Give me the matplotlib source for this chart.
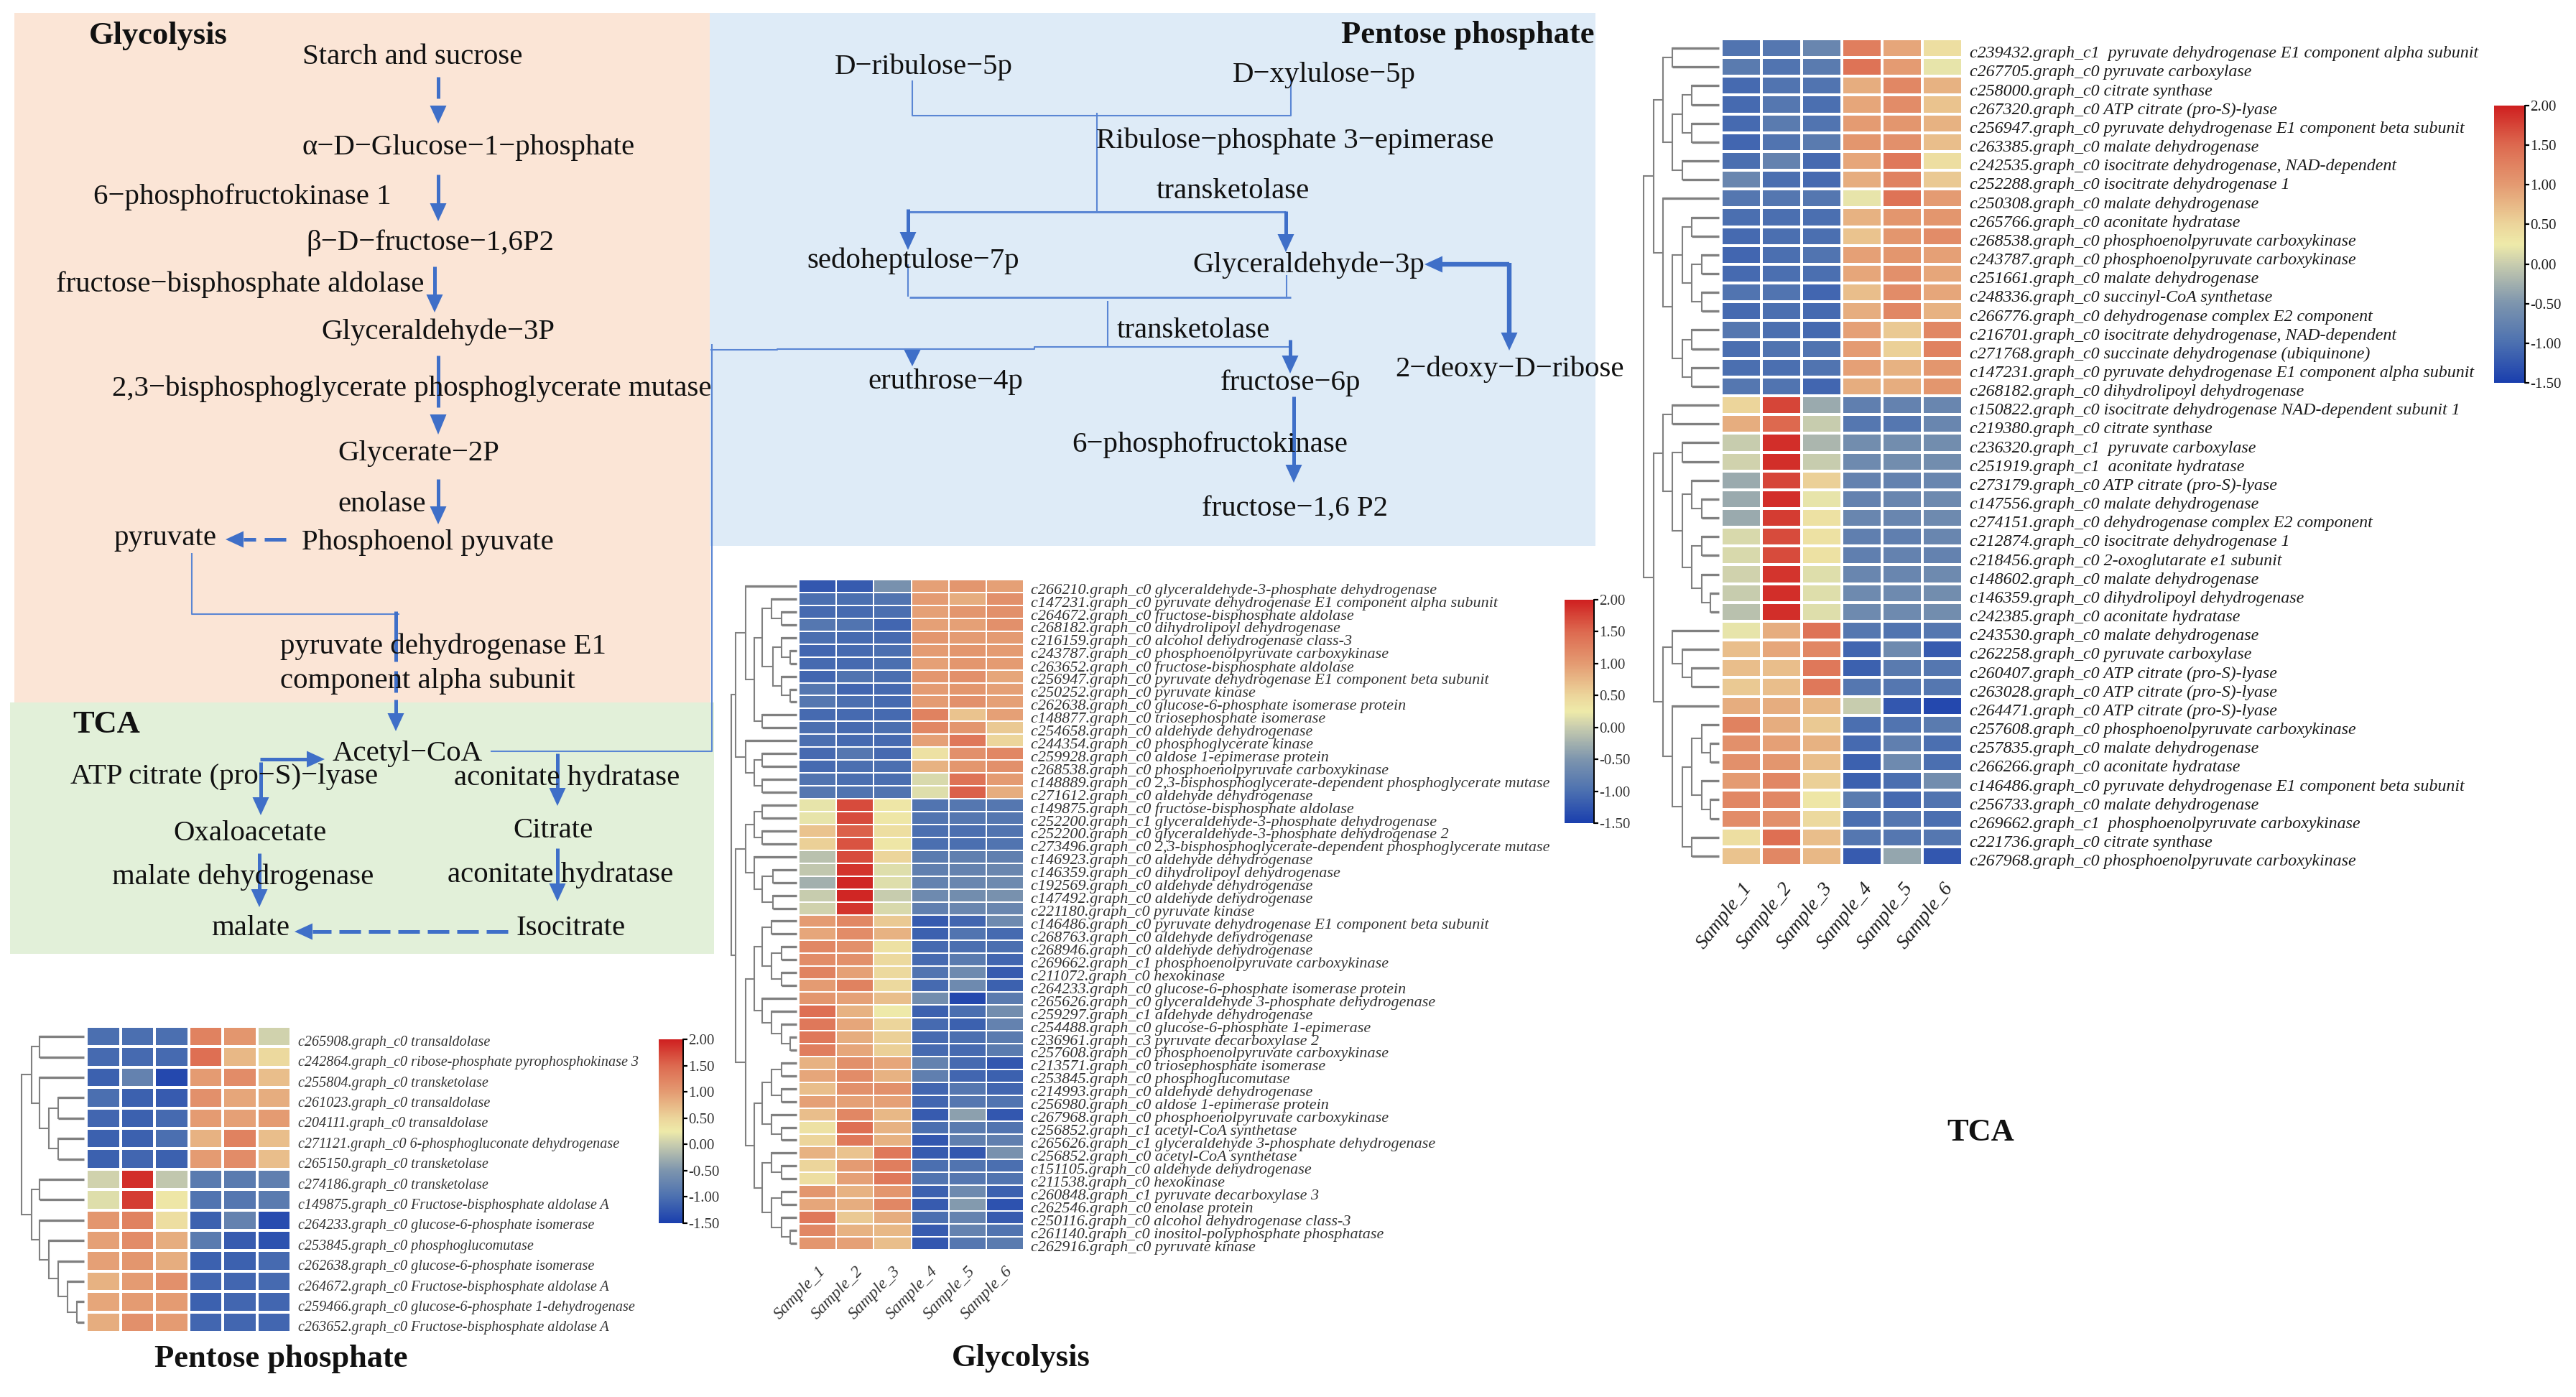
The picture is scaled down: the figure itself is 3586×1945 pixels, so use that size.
import numpy as np
import matplotlib
matplotlib.use("Agg")
import matplotlib.pyplot as plt
from matplotlib.colors import LinearSegmentedColormap
from matplotlib.patches import Rectangle

plt.rcParams['font.family'] = ['Liberation Serif', 'DejaVu Serif']

W, H = 3586, 1945

samples = ["Sample_1", "Sample_2", "Sample_3", "Sample_4", "Sample_5", "Sample_6"]
cbar_ticks = [2.0, 1.5, 1.0, 0.5, 0.0, -0.5, -1.0, -1.5]

# TCA heatmap
tca_labels = [
    "c239432.graph_c1  pyruvate dehydrogenase E1 component alpha subunit",
    "c267705.graph_c0 pyruvate carboxylase",
    "c258000.graph_c0 citrate synthase",
    "c267320.graph_c0 ATP citrate (pro-S)-lyase",
    "c256947.graph_c0 pyruvate dehydrogenase E1 component beta subunit",
    "c263385.graph_c0 malate dehydrogenase",
    "c242535.graph_c0 isocitrate dehydrogenase, NAD-dependent",
    "c252288.graph_c0 isocitrate dehydrogenase 1",
    "c250308.graph_c0 malate dehydrogenase",
    "c265766.graph_c0 aconitate hydratase",
    "c268538.graph_c0 phosphoenolpyruvate carboxykinase",
    "c243787.graph_c0 phosphoenolpyruvate carboxykinase",
    "c251661.graph_c0 malate dehydrogenase",
    "c248336.graph_c0 succinyl-CoA synthetase",
    "c266776.graph_c0 dehydrogenase complex E2 component",
    "c216701.graph_c0 isocitrate dehydrogenase, NAD-dependent",
    "c271768.graph_c0 succinate dehydrogenase (ubiquinone)",
    "c147231.graph_c0 pyruvate dehydrogenase E1 component alpha subunit",
    "c268182.graph_c0 dihydrolipoyl dehydrogenase",
    "c150822.graph_c0 isocitrate dehydrogenase NAD-dependent subunit 1",
    "c219380.graph_c0 citrate synthase",
    "c236320.graph_c1  pyruvate carboxylase",
    "c251919.graph_c1  aconitate hydratase",
    "c273179.graph_c0 ATP citrate (pro-S)-lyase",
    "c147556.graph_c0 malate dehydrogenase",
    "c274151.graph_c0 dehydrogenase complex E2 component",
    "c212874.graph_c0 isocitrate dehydrogenase 1",
    "c218456.graph_c0 2-oxoglutarate e1 subunit",
    "c148602.graph_c0 malate dehydrogenase",
    "c146359.graph_c0 dihydrolipoyl dehydrogenase",
    "c242385.graph_c0 aconitate hydratase",
    "c243530.graph_c0 malate dehydrogenase",
    "c262258.graph_c0 pyruvate carboxylase",
    "c260407.graph_c0 ATP citrate (pro-S)-lyase",
    "c263028.graph_c0 ATP citrate (pro-S)-lyase",
    "c264471.graph_c0 ATP citrate (pro-S)-lyase",
    "c257608.graph_c0 phosphoenolpyruvate carboxykinase",
    "c257835.graph_c0 malate dehydrogenase",
    "c266266.graph_c0 aconitate hydratase",
    "c146486.graph_c0 pyruvate dehydrogenase E1 component beta subunit",
    "c256733.graph_c0 malate dehydrogenase",
    "c269662.graph_c1  phosphoenolpyruvate carboxykinase",
    "c221736.graph_c0 citrate synthase",
    "c267968.graph_c0 phosphoenolpyruvate carboxykinase",
]
tca_values = [
    [-0.95, -0.9, -0.7, 1.3, 0.9, 0.4],
    [-0.85, -0.95, -0.85, 1.4, 1.0, 0.2],
    [-1.05, -0.95, -0.95, 0.85, 1.2, 0.8],
    [-1.05, -0.9, -1.0, 0.9, 1.15, 0.65],
    [-1.05, -0.85, -0.95, 1.0, 1.05, 0.8],
    [-1.1, -0.95, -0.85, 1.05, 1.1, 0.7],
    [-1.0, -0.75, -1.05, 0.9, 1.35, 0.4],
    [-0.7, -1.0, -1.05, 0.85, 1.25, 0.6],
    [-0.9, -0.9, -0.9, 0.2, 1.4, 1.0],
    [-1.0, -1.0, -1.0, 0.8, 1.05, 1.05],
    [-1.05, -1.0, -1.0, 0.65, 1.05, 1.15],
    [-1.1, -1.0, -0.95, 0.95, 1.05, 0.95],
    [-1.05, -1.0, -1.0, 0.9, 1.1, 0.9],
    [-0.95, -0.95, -1.1, 0.7, 1.15, 0.9],
    [-1.05, -1.0, -1.05, 0.85, 1.2, 0.8],
    [-0.9, -1.0, -1.05, 0.95, 0.6, 1.2],
    [-1.0, -0.95, -0.95, 1.0, 0.55, 1.25],
    [-1.0, -1.0, -0.95, 0.95, 0.8, 1.05],
    [-0.9, -0.95, -1.1, 0.85, 0.85, 1.05],
    [0.5, 1.75, -0.3, -0.8, -0.75, -0.7],
    [0.85, 1.5, 0.0, -0.9, -0.9, -0.7],
    [0.0, 1.9, -0.2, -0.6, -0.6, -0.6],
    [0.05, 1.9, 0.0, -0.65, -0.6, -0.6],
    [-0.3, 1.75, 0.55, -0.75, -0.75, -0.7],
    [-0.3, 1.9, 0.2, -0.75, -0.7, -0.65],
    [-0.3, 1.8, 0.35, -0.7, -0.7, -0.65],
    [0.1, 1.7, 0.35, -0.8, -0.8, -0.7],
    [0.1, 1.7, 0.35, -0.8, -0.75, -0.75],
    [0.05, 1.85, 0.15, -0.7, -0.7, -0.65],
    [0.0, 1.9, 0.15, -0.65, -0.65, -0.6],
    [-0.1, 1.9, 0.15, -0.65, -0.65, -0.6],
    [0.2, 0.85, 1.4, -0.9, -0.95, -0.9],
    [0.7, 0.9, 1.2, -1.1, -0.65, -1.2],
    [0.7, 0.7, 1.35, -1.15, -0.85, -0.9],
    [0.6, 0.7, 1.35, -0.9, -0.9, -0.9],
    [0.85, 0.85, 0.75, 0.0, -1.25, -1.4],
    [1.25, 0.85, 0.6, -1.0, -0.95, -0.85],
    [1.1, 0.95, 0.8, -1.05, -0.8, -1.0],
    [1.1, 1.05, 0.7, -1.15, -0.65, -1.0],
    [1.0, 1.2, 0.55, -1.15, -1.0, -0.6],
    [1.2, 1.2, 0.3, -0.85, -1.05, -0.95],
    [1.15, 1.1, 0.45, -1.0, -0.9, -1.0],
    [0.4, 1.45, 0.7, -0.9, -0.9, -0.9],
    [0.65, 1.2, 0.75, -1.2, -0.35, -1.25],
]
# dendrograms: [merge height in px left of the heatmap, child, child], ints are rows
tca_tree = [108,
    [94,
        [81, [68, 0, 1], [68, [54, [41, 2, 3], [41, 4, 5]], [54, 6, 7]]],
        [81, 8, [68, [54, [41, 9, 10], [41, [27, 11, 12], [27, 13, 14]]],
                     [54, [41, 15, 16], [41, 17, 18]]]]],
    [94,
        [81, [68, 19, 20],
             [68, [54, 21, 22],
                  [54, [41, 23, [27, 24, 25]],
                       [41, [27, 26, 27], [27, 28, [15, 29, 30]]]]]],
        [81, [68, 31, [54, 32, [41, 33, 34]]],
             [68, 35, [54, [41, [27, 36, [15, 37, 38]], [27, 39, [15, 40, 41]]],
                           [41, 42, 43]]]]]]

# Glycolysis heatmap
gly_labels = [
    "c266210.graph_c0 glyceraldehyde-3-phosphate dehydrogenase",
    "c147231.graph_c0 pyruvate dehydrogenase E1 component alpha subunit",
    "c264672.graph_c0 fructose-bisphosphate aldolase",
    "c268182.graph_c0 dihydrolipoyl dehydrogenase",
    "c216159.graph_c0 alcohol dehydrogenase class-3",
    "c243787.graph_c0 phosphoenolpyruvate carboxykinase",
    "c263652.graph_c0 fructose-bisphosphate aldolase",
    "c256947.graph_c0 pyruvate dehydrogenase E1 component beta subunit",
    "c250252.graph_c0 pyruvate kinase",
    "c262638.graph_c0 glucose-6-phosphate isomerase protein",
    "c148877.graph_c0 triosephosphate isomerase",
    "c254658.graph_c0 aldehyde dehydrogenase",
    "c244354.graph_c0 phosphoglycerate kinase",
    "c259928.graph_c0 aldose 1-epimerase protein",
    "c268538.graph_c0 phosphoenolpyruvate carboxykinase",
    "c148889.graph_c0 2,3-bisphosphoglycerate-dependent phosphoglycerate mutase",
    "c271612.graph_c0 aldehyde dehydrogenase",
    "c149875.graph_c0 fructose-bisphosphate aldolase",
    "c252200.graph_c1 glyceraldehyde-3-phosphate dehydrogenase",
    "c252200.graph_c0 glyceraldehyde-3-phosphate dehydrogenase 2",
    "c273496.graph_c0 2,3-bisphosphoglycerate-dependent phosphoglycerate mutase",
    "c146923.graph_c0 aldehyde dehydrogenase",
    "c146359.graph_c0 dihydrolipoyl dehydrogenase",
    "c192569.graph_c0 aldehyde dehydrogenase",
    "c147492.graph_c0 aldehyde dehydrogenase",
    "c221180.graph_c0 pyruvate kinase",
    "c146486.graph_c0 pyruvate dehydrogenase E1 component beta subunit",
    "c268763.graph_c0 aldehyde dehydrogenase",
    "c268946.graph_c0 aldehyde dehydrogenase",
    "c269662.graph_c1 phosphoenolpyruvate carboxykinase",
    "c211072.graph_c0 hexokinase",
    "c264233.graph_c0 glucose-6-phosphate isomerase protein",
    "c265626.graph_c0 glyceraldehyde 3-phosphate dehydrogenase",
    "c259297.graph_c1 aldehyde dehydrogenase",
    "c254488.graph_c0 glucose-6-phosphate 1-epimerase",
    "c236961.graph_c3 pyruvate decarboxylase 2",
    "c257608.graph_c0 phosphoenolpyruvate carboxykinase",
    "c213571.graph_c0 triosephosphate isomerase",
    "c253845.graph_c0 phosphoglucomutase",
    "c214993.graph_c0 aldehyde dehydrogenase",
    "c256980.graph_c0 aldose 1-epimerase protein",
    "c267968.graph_c0 phosphoenolpyruvate carboxykinase",
    "c256852.graph_c1 acetyl-CoA synthetase",
    "c265626.graph_c1 glyceraldehyde 3-phosphate dehydrogenase",
    "c256852.graph_c0 acetyl-CoA synthetase",
    "c151105.graph_c0 aldehyde dehydrogenase",
    "c211538.graph_c0 hexokinase",
    "c260848.graph_c1 pyruvate decarboxylase 3",
    "c262546.graph_c0 enolase protein",
    "c250116.graph_c0 alcohol dehydrogenase class-3",
    "c261140.graph_c0 inositol-polyphosphate phosphatase",
    "c262916.graph_c0 pyruvate kinase",
]
gly_values = [
    [-1.25, -1.2, -0.55, 0.95, 1.05, 0.95],
    [-1.0, -1.0, -0.95, 1.0, 0.85, 1.1],
    [-1.05, -1.05, -1.0, 0.95, 1.05, 1.1],
    [-0.9, -0.95, -1.1, 0.95, 0.95, 1.1],
    [-1.0, -1.05, -1.05, 1.05, 1.0, 1.0],
    [-1.1, -1.05, -1.0, 1.0, 1.05, 1.0],
    [-1.05, -1.05, -1.0, 0.95, 1.05, 1.0],
    [-1.1, -0.95, -1.0, 1.05, 1.1, 0.9],
    [-0.9, -1.1, -1.05, 1.0, 1.05, 0.95],
    [-0.9, -1.0, -1.05, 1.0, 1.1, 0.95],
    [-1.05, -1.05, -1.05, 1.25, 0.65, 0.95],
    [-1.0, -1.05, -1.0, 1.2, 1.05, 0.6],
    [-1.0, -1.05, -1.05, 0.95, 1.35, 0.5],
    [-1.05, -0.9, -1.05, 0.35, 1.1, 1.2],
    [-1.05, -1.0, -1.0, 0.8, 1.05, 1.1],
    [-0.95, -1.0, -1.0, 0.1, 1.4, 1.0],
    [-0.9, -0.95, -0.95, 0.15, 1.55, 0.85],
    [0.2, 1.7, 0.3, -0.95, -0.9, -0.9],
    [0.2, 1.7, 0.3, -0.95, -0.9, -0.9],
    [0.65, 1.55, 0.4, -1.0, -1.0, -0.95],
    [0.55, 1.65, 0.3, -1.0, -1.0, -0.95],
    [-0.1, 1.7, 0.5, -0.85, -0.8, -0.8],
    [-0.05, 1.85, 0.15, -0.8, -0.75, -0.7],
    [-0.25, 1.95, 0.15, -0.75, -0.7, -0.65],
    [0.0, 1.95, 0.0, -0.65, -0.6, -0.55],
    [0.05, 1.85, 0.1, -0.8, -0.7, -0.7],
    [1.0, 1.2, 0.6, -1.2, -1.1, -0.65],
    [0.9, 1.15, 0.8, -1.15, -0.95, -1.05],
    [1.2, 1.1, 0.35, -1.05, -1.0, -1.0],
    [1.15, 1.1, 0.45, -1.05, -0.85, -1.1],
    [1.25, 0.95, 0.45, -0.95, -0.65, -1.2],
    [1.0, 1.25, 0.45, -1.05, -0.65, -1.15],
    [1.05, 0.95, 0.7, -0.6, -1.4, -0.85],
    [1.45, 0.8, 0.25, -1.15, -1.0, -0.6],
    [1.35, 0.9, 0.5, -1.05, -1.15, -0.75],
    [1.35, 0.85, 0.55, -1.05, -1.0, -0.85],
    [1.3, 0.9, 0.55, -1.05, -1.05, -0.85],
    [0.8, 1.1, 0.9, -0.75, -1.05, -1.25],
    [0.9, 1.15, 0.8, -0.8, -1.1, -1.15],
    [0.7, 1.1, 1.1, -1.1, -0.9, -1.1],
    [0.95, 0.95, 0.95, -1.1, -0.9, -0.95],
    [0.7, 1.2, 0.75, -1.2, -0.4, -1.25],
    [0.35, 1.45, 0.8, -1.0, -0.85, -0.95],
    [0.5, 1.35, 0.8, -1.25, -0.8, -0.8],
    [0.8, 0.65, 1.35, -1.2, -1.25, -0.55],
    [0.5, 1.0, 1.3, -1.0, -0.95, -1.0],
    [0.4, 0.95, 1.35, -0.95, -0.9, -0.95],
    [1.05, 0.8, 1.05, -1.15, -0.65, -1.15],
    [0.9, 0.85, 1.2, -1.2, -0.45, -1.3],
    [1.35, 0.6, 0.85, -1.0, -0.75, -1.2],
    [1.2, 0.8, 0.75, -1.2, -0.75, -0.95],
    [1.05, 0.95, 0.7, -1.25, -0.9, -0.85],
]
gly_tree = [94,
    [88,
        [74, 0, [62, [51, [38, 1, [24, 2, 3]],
                          [36, [24, 4, [12, 5, 6]], [24, 7, [12, 8, 9]]]],
                     [51, 10, 11]]],
        [74, 12, [62, [51, 13, 14], [51, 15, 16]]]],
    [88,
        [74, [62, [51, 17, 18], [51, 19, 20]],
             [62, 21, [51, [36, 22, 23], [36, 24, 25]]]],
        [74, [62, [51, [38, 26, 27], [38, [24, 28, 29], [24, 30, 31]]],
                  [51, 32, [38, 33, [24, 34, [12, 35, 36]]]]],
             [62, [51, [38, [24, 37, 38], [24, 39, 40]], [38, 41, [24, 42, 43]]],
                  [51, [38, 44, [24, 45, 46]],
                       [38, [24, 47, 48], [24, 49, [12, 50, 51]]]]]]]]

# Pentose phosphate heatmap
ppp_labels = [
    "c265908.graph_c0 transaldolase",
    "c242864.graph_c0 ribose-phosphate pyrophosphokinase 3",
    "c255804.graph_c0 transketolase",
    "c261023.graph_c0 transaldolase",
    "c204111.graph_c0 transaldolase",
    "c271121.graph_c0 6-phosphogluconate dehydrogenase",
    "c265150.graph_c0 transketolase",
    "c274186.graph_c0 transketolase",
    "c149875.graph_c0 Fructose-bisphosphate aldolase A",
    "c264233.graph_c0 glucose-6-phosphate isomerase",
    "c253845.graph_c0 phosphoglucomutase",
    "c262638.graph_c0 glucose-6-phosphate isomerase",
    "c264672.graph_c0 Fructose-bisphosphate aldolase A",
    "c259466.graph_c0 glucose-6-phosphate 1-dehydrogenase",
    "c263652.graph_c0 Fructose-bisphosphate aldolase A",
]
ppp_values = [
    [-1.0, -1.0, -1.0, 1.25, 1.05, 0.05],
    [-1.05, -1.05, -1.05, 1.45, 0.75, 0.45],
    [-1.15, -0.75, -1.4, 1.0, 1.15, 0.7],
    [-1.0, -1.15, -1.2, 1.1, 0.9, 0.85],
    [-1.1, -1.15, -1.05, 1.0, 0.95, 1.0],
    [-1.15, -1.15, -1.0, 0.8, 1.25, 0.7],
    [-1.15, -1.1, -1.15, 1.0, 1.15, 0.7],
    [0.05, 1.9, -0.05, -0.85, -0.85, -0.8],
    [0.15, 1.8, 0.3, -0.95, -0.9, -0.85],
    [1.05, 1.25, 0.4, -1.15, -0.75, -1.35],
    [0.95, 1.15, 0.85, -0.85, -1.2, -1.3],
    [0.95, 1.05, 0.85, -1.15, -1.15, -1.05],
    [0.8, 1.0, 1.1, -1.1, -1.1, -1.05],
    [0.9, 1.0, 1.0, -1.15, -1.1, -1.1],
    [0.85, 1.1, 1.0, -1.1, -1.1, -1.1],
]
ppp_tree = [90,
    [76, [65, 0, 1], [65, 2, [52, [39, 3, 4], [39, 5, 6]]]],
    [76, [65, 7, 8], [65, 9, [52, 10, [39, 11, [26, 12, [13, 13, 14]]]]]]]

# colour scale
cmap_nodes = [(-1.5, "#1a3fae"), (-1.0, "#4c70b0"), (-0.5, "#7d95ae"), (0.0, "#c8ccae"),
              (0.25, "#eeeaa9"), (0.5, "#ecd59b"), (1.0, "#e49b72"), (1.5, "#dd6a50"),
              (2.0, "#cf2020")]
heat_cmap = LinearSegmentedColormap.from_list(
    "heat", [((v + 1.5) / 3.5, c) for v, c in cmap_nodes], N=256)

PEACH, GREEN, SKY = "#fbe5d6", "#e2f0d9", "#deebf7"
BLUE = "#3f6fc8"
THIN = "#5a86d4"

fig = plt.figure(figsize=(W / 100, H / 100), dpi=100, facecolor="white")
bg = fig.add_axes([0, 0, 1, 1])
bg.set_xlim(0, W)
bg.set_ylim(H, 0)
bg.axis("off")


def px_axes(x0, y0, x1, y1):
    return fig.add_axes([x0 / W, 1 - y1 / H, (x1 - x0) / W, (y1 - y0) / H])


def thin(xs, ys, lw=1.5, color=THIN):
    bg.plot(xs, ys, color=color, lw=lw, zorder=3, solid_capstyle="butt")


def arrow(x0, y0, x1, y1, lw=3.6, head_len=25, head_w=23, gap=0, dash=None):
    # shaft plus a filled triangular head, optional gap before the head
    d = np.array([x1 - x0, y1 - y0], dtype=float)
    length = np.hypot(*d)
    u = d / length
    n = np.array([-u[1], u[0]])
    tip = np.array([x1, y1], dtype=float)
    base = tip - u * head_len
    end = base - u * gap
    if dash is None:
        bg.plot([x0, end[0]], [y0, end[1]], color=BLUE, lw=lw, zorder=5, solid_capstyle="butt")
    else:
        on, off = dash
        s = 0
        total = length - head_len - gap
        while s < total:
            a = np.array([x0, y0]) + u * s
            b = np.array([x0, y0]) + u * min(s + on, total)
            bg.plot([a[0], b[0]], [a[1], b[1]], color=BLUE, lw=lw, zorder=5, solid_capstyle="butt")
            s += on + off
    tri = np.array([tip, base + n * head_w / 2, base - n * head_w / 2])
    bg.fill(tri[:, 0], tri[:, 1], color=BLUE, lw=0, zorder=5)


def label(x, y, s, size=29.4, weight="normal"):
    bg.text(x, y + 2, s, fontsize=size, fontweight=weight, va="center", ha="left",
            color="#111111", zorder=6)


def draw_tree(node, left, top, row_h):
    # returns the (x, y) joint of this node
    if isinstance(node, int):
        return left - 3, top + (node + 0.5) * row_h
    h, a, b = node
    xa, ya = draw_tree(a, left, top, row_h)
    xb, yb = draw_tree(b, left, top, row_h)
    x = left - h
    bg.plot([x, x], [ya, yb], color="#808080", lw=1.5, zorder=2, solid_capstyle="projecting")
    for child, xc, yc in ((a, xa, ya), (b, xb, yb)):
        lw = 2.4 if isinstance(child, int) else 1.5
        bg.plot([x, xc], [yc, yc], color="#808080", lw=lw, zorder=2, solid_capstyle="butt")
    return x, (ya + yb) / 2


def heatmap(values, labels, tree, box, cbox, fsize, grid_lw=1.5, txt="#1a1a1a",
            sample_size=None, sample_rot=50):
    x0, y0, x1, y1 = box
    ax = px_axes(x0, y0, x1, y1)
    data = np.array(values)
    mesh = ax.pcolormesh(data, cmap=heat_cmap, vmin=-1.5, vmax=2.0,
                         edgecolors="white", linewidth=grid_lw)
    ax.set_ylim(len(labels), 0)
    ax.set_xlim(0, 6)
    for sp in ax.spines.values():
        sp.set_visible(False)
    ax.yaxis.tick_right()
    ax.set_yticks(np.arange(len(labels)) + 0.7, labels, fontsize=fsize, style="italic", color=txt)
    ax.tick_params(axis="y", length=0, pad=7)
    if sample_size:
        ax.set_xticks(np.arange(6) + 0.5, samples, fontsize=sample_size, style="italic", color=txt,
                      rotation=sample_rot, ha="right", rotation_mode="anchor")
        ax.tick_params(axis="x", length=0, pad=14)
    else:
        ax.set_xticks([])
    draw_tree(tree, x0, y0, (y1 - y0) / len(labels))

    cax = px_axes(*cbox)
    cb = fig.colorbar(mesh, cax=cax)
    cb.set_ticks(cbar_ticks, labels=["%.2f" % t for t in cbar_ticks])
    cb.outline.set_visible(False)
    cax.spines["right"].set_visible(True)
    cax.spines["right"].set_linewidth(1.4)
    cax.tick_params(axis="y", length=4, width=1.6, labelsize=15, pad=1, color="black")
    for t in cax.get_yticklabels():
        t.set_color(txt)


# pathway panels
bg.add_patch(Rectangle((20, 18), 969, 960, color=PEACH, lw=0, zorder=0))
bg.add_patch(Rectangle((14, 978), 980, 350, color=GREEN, lw=0, zorder=0))
bg.add_patch(Rectangle((988, 18), 1233, 742, color=SKY, lw=0, zorder=0))

label(124, 48, "Glycolysis", size=32, weight="bold")
label(421, 77, "Starch and sucrose")
label(420, 203, "α−D−Glucose−1−phosphate")
label(130, 272, "6−phosphofructokinase 1")
label(426, 336, "β−D−fructose−1,6P2")
label(78, 394, "fructose−bisphosphate aldolase")
label(447, 460, "Glyceraldehyde−3P")
label(156, 539, "2,3−bisphosphoglycerate phosphoglycerate mutase")
label(470, 630, "Glycerate−2P")
label(470, 701, "enolase")
label(158, 747, "pyruvate")
label(420, 753, "Phosphoenol pyuvate")
label(390, 898, "pyruvate dehydrogenase E1")
label(390, 946, "component alpha subunit")

label(101, 1007, "TCA", size=32, weight="bold")
label(463, 1048, "Acetyl−CoA")
label(98, 1079, "ATP citrate (pro−S)−lyase")
label(632, 1081, "aconitate hydratase")
label(241, 1159, "Oxaloacetate")
label(714, 1155, "Citrate")
label(156, 1219, "malate dehydrogenase")
label(623, 1216, "aconitate hydratase")
label(294, 1291, "malate")
label(719, 1290, "Isocitrate")

label(1867, 47, "Pentose phosphate", size=32, weight="bold")
label(1162, 91, "D−ribulose−5p")
label(1716, 102, "D−xylulose−5p")
label(1526, 194, "Ribulose−phosphate 3−epimerase")
label(1610, 264, "transketolase")
label(1123, 361, "sedoheptulose−7p")
label(1660, 367, "Glyceraldehyde−3p")
label(1555, 458, "transketolase")
label(1942, 512, "2−deoxy−D−ribose")
label(1208, 530, "eruthrose−4p")
label(1699, 531, "fructose−6p")
label(1492, 617, "6−phosphofructokinase")
label(1673, 706, "fructose−1,6 P2")

# glycolysis and TCA arrows
arrow(610, 107, 610, 172, gap=10)
arrow(610, 243, 610, 308)
arrow(605, 371, 605, 435)
arrow(610, 495, 610, 605, head_len=28, gap=10)
arrow(610, 667, 610, 730)
arrow(398, 751, 314, 751, dash=(30, 12))
thin([267, 267, 556], [770, 855, 855])
bg.plot([551, 551], [851, 921], color=BLUE, lw=3.6, zorder=5, solid_capstyle="butt")
bg.plot([551, 551], [934, 964], color=BLUE, lw=3.6, zorder=5, solid_capstyle="butt")
arrow(551, 974, 551, 1018)
thin([683, 991, 991], [1046, 1046, 479])
thin([989, 1082, 1082, 1440, 1440, 1797], [487, 487, 486, 486, 483, 483])
arrow(362, 1057, 452, 1057)
arrow(363, 1061, 363, 1135)
arrow(776, 1049, 776, 1122)
arrow(361, 1188, 361, 1263)
arrow(776, 1181, 776, 1255)
arrow(707, 1297, 410, 1297, dash=(30, 11))

# pentose phosphate arrows
thin([1270, 1270, 1797, 1797], [112, 161, 161, 112])
thin([1527, 1527], [157, 295])
thin([1262, 1790], [295, 295], lw=2.2)
arrow(1264, 291, 1264, 348)
arrow(1790, 294, 1790, 351)
thin([1264, 1264], [368, 413])
thin([1791, 1791], [383, 413])
thin([1266, 1797], [414, 414], lw=2)
thin([1542, 1542], [419, 483])
arrow(1270, 487, 1270, 510, head_len=23, lw=0.1)
arrow(1796, 473, 1796, 520)
arrow(1801, 552, 1801, 672)
arrow(2101, 368, 1983, 368, lw=4.6)
arrow(2101, 366, 2101, 488, lw=4.6)

# heatmaps
heatmap(tca_values, tca_labels, tca_tree, (2396, 54, 2732, 1205),
        (3472, 147, 3515, 533), 17.3, sample_size=20, sample_rot=52)
heatmap(gly_values, gly_labels, gly_tree, (1112, 807, 1425, 1740),
        (2178, 835, 2219, 1146), 15.95, grid_lw=1.1, txt="#333333",
        sample_size=17, sample_rot=46)
heatmap(ppp_values, ppp_labels, ppp_tree, (120, 1429, 405, 1855),
        (917, 1447, 951, 1703), 14.5, txt="#333333")

label(2710, 1575, "TCA", size=32, weight="bold")
label(1325, 1889, "Glycolysis", size=32, weight="bold")
label(215, 1890, "Pentose phosphate", size=32, weight="bold")

fig.savefig("out.png", dpi=100)
